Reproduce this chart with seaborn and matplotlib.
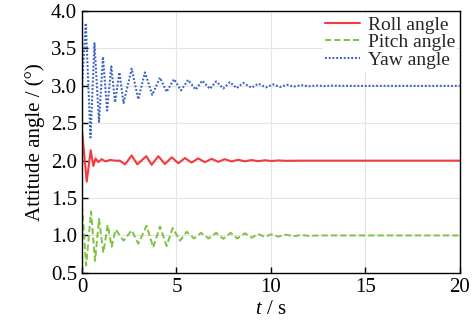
import matplotlib
matplotlib.use("Agg")
import matplotlib.pyplot as plt
import seaborn as sns
import pandas as pd

# ---- data ----
yaw_t = [0.0, 0.2, 0.45, 0.66, 0.9, 1.11, 1.33, 1.55, 1.75, 1.98, 2.2, 2.63, 2.98, 3.33, 3.72,
         4.13, 4.48, 4.87, 5.24, 5.62, 6.02, 6.37, 6.77, 7.1, 7.48, 7.83, 8.19, 8.53, 8.98,
         9.33, 9.74, 10.12, 10.48, 10.85, 11.2, 11.6, 12.0, 12.4, 12.8, 13.2, 14.0, 20.0]
yaw_v = [3.0, 3.84, 2.31, 3.57, 2.52, 3.39, 2.67, 3.26, 2.78, 3.18, 2.77, 3.23, 2.82, 3.18, 2.88,
         3.11, 2.92, 3.09, 2.94, 3.08, 2.95, 3.07, 2.96, 3.06, 2.965, 3.05, 2.97, 3.04, 2.975,
         3.03, 2.98, 3.02, 2.985, 3.015, 2.99, 3.01, 2.995, 3.005, 2.997, 3.003, 3.0, 3.0]

roll_t = [0.0, 0.25, 0.46, 0.6, 0.72, 0.86, 1.04, 1.25, 1.5, 1.75, 2.0, 2.28, 2.63, 2.93, 3.4,
          3.69, 4.04, 4.39, 4.75, 5.1, 5.45, 5.8, 6.15, 6.51, 6.86, 7.21, 7.56, 7.92, 8.27,
          8.62, 8.97, 9.33, 9.68, 10.03, 10.4, 10.8, 11.5, 20.0]
roll_v = [2.4, 1.72, 2.14, 1.93, 2.03, 1.98, 2.02, 1.99, 2.01, 2.0, 2.0, 1.95, 2.07, 1.95, 2.06,
          1.945, 2.06, 1.955, 2.045, 1.965, 2.035, 1.975, 2.03, 1.98, 2.025, 1.985, 2.02, 1.99, 2.012,
          1.992, 2.008, 1.994, 2.005, 1.996, 2.003, 1.998, 2.0, 2.0]

pitch_t = [0.0, 0.22, 0.48, 0.69, 0.9, 1.13, 1.36, 1.57, 1.78, 2.2, 2.63, 2.98, 3.42, 3.77,
           4.13, 4.48, 4.8, 5.19, 5.54, 5.93, 6.3, 6.7, 7.1, 7.48, 7.87, 8.22, 8.62, 8.98,
           9.33, 9.68, 10.0, 10.4, 10.8, 11.2, 11.6, 12.0, 12.5, 20.0]
pitch_v = [1.4, 0.6, 1.32, 0.66, 1.22, 0.77, 1.14, 0.85, 1.08, 0.93, 1.07, 0.89, 1.13, 0.84,
           1.12, 0.86, 1.10, 0.93, 1.05, 0.96, 1.035, 0.96, 1.035, 0.955, 1.035, 0.96, 1.03, 0.97,
           1.02, 0.98, 1.015, 0.985, 1.01, 0.99, 1.006, 0.995, 1.0, 1.0]

labels = ["Roll angle", "Pitch angle", "Yaw angle"]
x_ticks = [0, 5, 10, 15, 20]
y_ticks = [0.5, 1.0, 1.5, 2.0, 2.5, 3.0, 3.5, 4.0]

# ---- style ----
sns.set_theme(style="ticks")
plt.rcParams["font.family"] = ["Liberation Serif", "DejaVu Serif"]
plt.rcParams["mathtext.fontset"] = "custom"
plt.rcParams["mathtext.rm"] = "Liberation Serif"
plt.rcParams["mathtext.it"] = "Liberation Serif:italic"

fig = plt.figure(figsize=(4.74, 3.26), dpi=100)
ax = fig.add_axes([0.173, 0.163, 0.797, 0.803])

roll = pd.DataFrame({"t": roll_t, "v": roll_v})
pitch = pd.DataFrame({"t": pitch_t, "v": pitch_v})
yaw = pd.DataFrame({"t": yaw_t, "v": yaw_v})

sns.lineplot(data=roll, x="t", y="v", ax=ax, color="#f23a3f", lw=1.5,
             estimator=None, sort=False, label=labels[0])
sns.lineplot(data=pitch, x="t", y="v", ax=ax, color="#7cc243", lw=1.4,
             linestyle=(0, (3.2, 1.6)), estimator=None, sort=False, label=labels[1])
sns.lineplot(data=yaw, x="t", y="v", ax=ax, color="#3b62c4", lw=1.5,
             linestyle=(0, (0.9, 0.9)), estimator=None, sort=False, label=labels[2])

ax.set_xlim(0, 20)
ax.set_ylim(0.5, 4.0)
ax.set_xticks(x_ticks)
ax.set_yticks(y_ticks)
ax.set_yticklabels([f"{v:.1f}" for v in y_ticks])
ax.grid(True, color="#e4e4e4", lw=0.8)
ax.set_axisbelow(True)
for s in ax.spines.values():
    s.set_visible(True)
    s.set_color("black")
    s.set_linewidth(1.0)
ax.tick_params(direction="in", length=4, width=1, labelsize=15, pad=3.5, colors="black",
               top=False, right=False)

ax.set_xlabel("$t$ / s", fontsize=15, labelpad=2, color="black")
ax.set_ylabel("Attitude angle / (°)", fontsize=15, labelpad=4, color="black")

leg = ax.legend(loc="upper right", fontsize=14, frameon=True, fancybox=False,
                edgecolor="none", facecolor="white", framealpha=1.0,
                handlelength=1.8, handletextpad=0.4, labelspacing=0.0,
                borderpad=0.1, borderaxespad=0.15)

fig.savefig("out.png", dpi=100)
